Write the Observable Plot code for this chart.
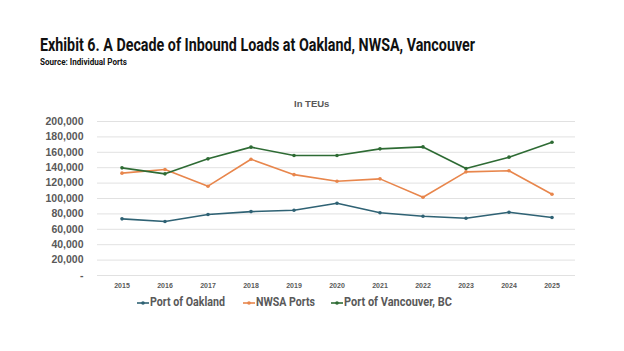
<!DOCTYPE html>
<html>
<head>
<meta charset="utf-8">
<script src="https://cdn.jsdelivr.net/npm/d3@7"></script>
<script src="https://cdn.jsdelivr.net/npm/@observablehq/plot@0.6"></script>
<style>
  html, body { margin: 0; padding: 0; background: #fff; }
  #wrap { position: relative; width: 624px; height: 351px; overflow: hidden; background: #fff; font-family: "Liberation Sans", Arial, sans-serif; }
  .abs { position: absolute; white-space: nowrap; transform-origin: 0 0; }
  #title { left: 40px; top: 35px; font-family: Roboto, "Liberation Sans", sans-serif; font-weight: 700; font-size: 17.5px; color: #111; }
  #subtitle { left: 40px; top: 57px; font-family: Roboto, "Liberation Sans", sans-serif; font-weight: 700; font-size: 8.5px; color: #111; }
  #unit { left: 294px; top: 98px; font-weight: 700; font-size: 9.5px; color: #595959; }
  #chart { position: absolute; left: 0; top: 90px; }
  .legtext { font-family: Roboto, "Liberation Sans", sans-serif; font-weight: 700; font-size: 12px; color: #595959; top: 295px; }
  .legsym { position: absolute; top: 299px; }
</style>
</head>
<body>
<div id="wrap">
  <div id="title" class="abs">Exhibit 6. A Decade of Inbound Loads at Oakland, NWSA, Vancouver</div>
  <div id="subtitle" class="abs">Source: Individual Ports</div>
  <div id="unit" class="abs">In TEUs</div>
  <div id="chart"></div>
</div>
<script>
const years = ["2015","2016","2017","2018","2019","2020","2021","2022","2023","2024","2025"];
const seriesNames = ["Port of Oakland", "NWSA Ports", "Port of Vancouver, BC"];
const oakland   = [73600, 70100, 79200, 83000, 84800, 93900, 81400, 77000, 74400, 82200, 75300];
const nwsa      = [132900, 137700, 116000, 151000, 131000, 122500, 125500, 101700, 134600, 136000, 105600];
const vancouver = [139800, 132000, 151500, 166700, 155800, 155800, 164500, 167000, 139000, 153700, 173000];
const yTicks = [0, 20000, 40000, 60000, 80000, 100000, 120000, 140000, 160000, 180000, 200000];
const colors = ["#2f6274", "#e8864c", "#2e6b34"];

const rows = [];
[oakland, nwsa, vancouver].forEach((arr, si) => {
  arr.forEach((v, i) => rows.push({year: years[i], value: v, series: seriesNames[si]}));
});

const fmt = d3.format(",");
const plot = Plot.plot({
  width: 624,
  height: 210,
  marginLeft: 97,
  marginRight: 49,
  marginTop: 31,
  marginBottom: 25,
  style: { fontFamily: "'Liberation Sans', Arial, sans-serif", background: "transparent" },
  x: { type: "band", domain: years, padding: 0, label: null },
  y: { domain: [0, 200000], label: null },
  color: { domain: seriesNames, range: colors },
  marks: [
    Plot.gridY(yTicks, { stroke: "#d9d9d9", strokeOpacity: 1, strokeWidth: 0.8 }),
    Plot.axisY({ ticks: yTicks, tickSize: 0, tickPadding: 14, tickFormat: d => d === 0 ? "-" : fmt(d),
                 fontSize: 10.5, fontWeight: "bold", fill: "#595959", label: null }),
    Plot.axisX({ tickSize: 0, tickPadding: 8, fontSize: 7, fontWeight: "bold", fill: "#595959", label: null }),
    Plot.line(rows, { x: "year", y: "value", z: "series", stroke: "series", strokeWidth: 1.6 }),
    Plot.dot(rows, { x: "year", y: "value", fill: "series", r: 1.8 })
  ]
});
document.getElementById("chart").appendChild(plot);

function fit(el, target) {
  const w = el.getBoundingClientRect().width;
  el.style.transform = `scaleX(${target / w})`;
}

// legend
const wrap = document.getElementById("wrap");
const symX = [137, 243, 331];
const textX = [150, 256, 344];
const textW = [75, 59, 108];
seriesNames.forEach((name, i) => {
  const s = document.createElementNS("http://www.w3.org/2000/svg", "svg");
  s.setAttribute("class", "legsym");
  s.setAttribute("width", 12);
  s.setAttribute("height", 8);
  s.style.left = symX[i] + "px";
  s.innerHTML = `<line x1="0" y1="4" x2="12" y2="4" stroke="${colors[i]}" stroke-width="1.6"/><circle cx="6" cy="4" r="1.8" fill="${colors[i]}"/>`;
  wrap.appendChild(s);
  const t = document.createElement("div");
  t.className = "abs legtext";
  t.style.left = textX[i] + "px";
  t.textContent = name;
  wrap.appendChild(t);
  fit(t, textW[i]);
});

fit(document.getElementById("title"), 435);
fit(document.getElementById("subtitle"), 87);
</script>
</body>
</html>
